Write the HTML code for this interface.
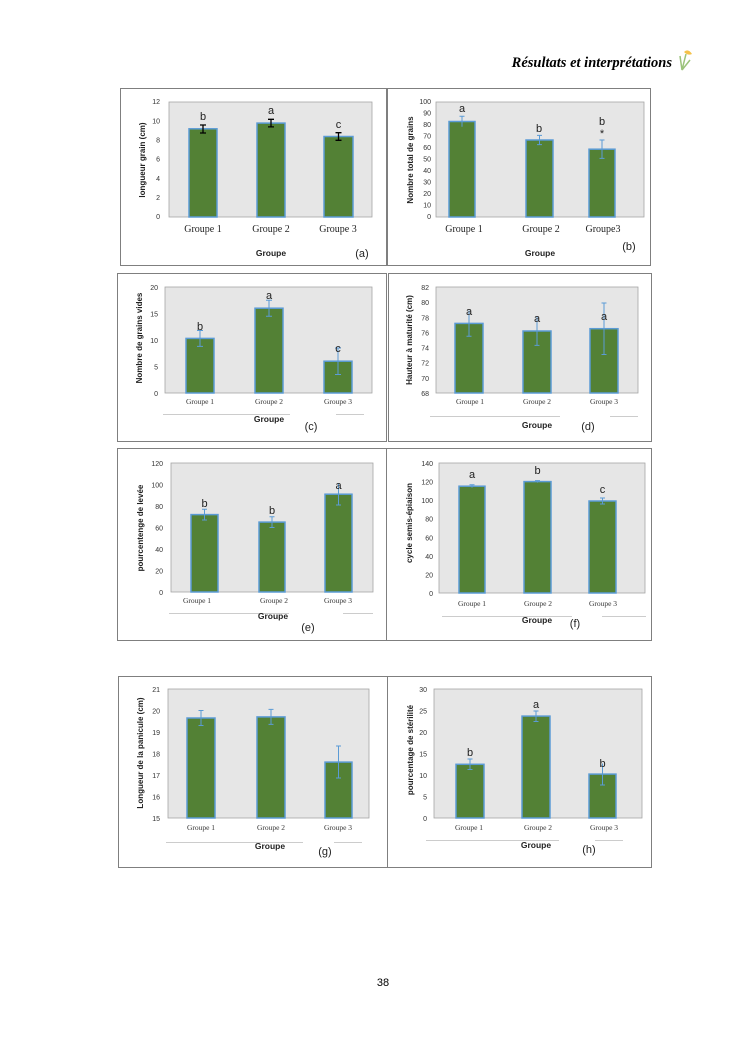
<!DOCTYPE html>
<html><head><meta charset="utf-8"><style>
body{margin:0;background:#fff}
svg{display:block}
.t{font-family:"Liberation Sans",sans-serif;font-size:7px;fill:#333}
.yl{font-family:"Liberation Sans",sans-serif;font-size:8px;font-weight:bold;fill:#222}
.gx{font-family:"Liberation Serif",serif;font-size:10px;fill:#222}
.gs{font-family:"Liberation Serif",serif;font-size:7.5px;fill:#333}
.gr{font-family:"Liberation Sans",sans-serif;font-size:8.5px;font-weight:bold;fill:#222}
.lt{font-family:"Liberation Sans",sans-serif;font-size:11px;fill:#222}
.pl{font-family:"Liberation Sans",sans-serif;font-size:11px;fill:#222}
.box{fill:#fff;stroke:#7f7f7f;stroke-width:1}
.pa{fill:#e6e6e6;stroke:#a6a6a6;stroke-width:.8}
.bar{fill:#538135;stroke:#5b9bd5;stroke-width:1.5}
.eb{stroke:#5b9bd5;stroke-width:1;fill:none}
.ek{stroke:#000;stroke-width:1.3;fill:none}
.ax{stroke:#888;stroke-width:.8;fill:none}
.ul{stroke:#999;stroke-width:.6}
</style></head><body>
<svg width="745" height="1053" viewBox="0 0 745 1053">
<text x="672" y="67" text-anchor="end" style="font-family:'Liberation Serif',serif;font-size:14.5px;font-weight:bold;font-style:italic" fill="#000">Résultats et interprétations</text>
<path d="M682 70 L680 56 M682 70 L686 54 M682 70 L690 60" stroke="#9bc37a" stroke-width="1.5" fill="none"/>
<path d="M684 52 q4 -4 8 2 q-4 2 -8 -2z" fill="#f5c24a"/>

<!-- (a) -->
<rect class="box" x="120.5" y="88.5" width="266" height="177"/>
<rect class="pa" x="169" y="102" width="203" height="115"/>
<g class="t" text-anchor="end"><text x="160" y="219">0</text><text x="160" y="200">2</text><text x="160" y="180.8">4</text><text x="160" y="161.7">6</text><text x="160" y="142.5">8</text><text x="160" y="123.3">10</text><text x="160" y="104.2">12</text></g>
<rect class="bar" x="189" y="128.8" width="28" height="88.2"/>
<rect class="bar" x="257" y="123.1" width="28" height="93.9"/>
<rect class="bar" x="324" y="136.5" width="29" height="80.5"/>
<path class="ek" d="M203 125v8M200 125h6M200 133h6 M271 119.3v7.6M268 119.3h6M268 126.9h6 M338.5 132.7v7.6M335.5 132.7h6M335.5 140.3h6"/>
<text class="lt" x="203" y="120" text-anchor="middle">b</text><text class="lt" x="271" y="114" text-anchor="middle">a</text><text class="lt" x="338.5" y="128" text-anchor="middle">c</text>
<text class="yl" transform="translate(145,160) rotate(-90)" text-anchor="middle">longueur grain (cm)</text>
<g class="gx" text-anchor="middle"><text x="203" y="232">Groupe 1</text><text x="271" y="232">Groupe 2</text><text x="338" y="232">Groupe 3</text></g>
<text class="gr" x="271" y="256" text-anchor="middle">Groupe</text><text class="pl" x="362" y="257" text-anchor="middle">(a)</text>

<!-- (b) -->
<rect class="box" x="387.5" y="88.5" width="263" height="177"/>
<rect class="pa" x="436" y="102" width="208" height="115"/>
<g class="t" text-anchor="end"><text x="431" y="219">0</text><text x="431" y="207.5">10</text><text x="431" y="196">20</text><text x="431" y="184.5">30</text><text x="431" y="173">40</text><text x="431" y="161.5">50</text><text x="431" y="150">60</text><text x="431" y="138.5">70</text><text x="431" y="127">80</text><text x="431" y="115.5">90</text><text x="431" y="104">100</text></g>
<rect class="bar" x="449" y="121.5" width="26" height="95.5"/>
<rect class="bar" x="526" y="140" width="27" height="77"/>
<rect class="bar" x="589" y="149.2" width="26" height="67.8"/>
<path class="eb" d="M462 116.3v10.4M459.5 116.3h5 M539.5 135.4v9.2M537 135.4h5M537 144.6h5 M602 140v18.4M599.5 140h5M599.5 158.4h5"/>
<text class="lt" x="462" y="112" text-anchor="middle">a</text><text class="lt" x="539" y="132" text-anchor="middle">b</text><text class="lt" x="602" y="125" text-anchor="middle">b</text><text class="lt" x="602" y="137" text-anchor="middle">*</text>
<text class="yl" transform="translate(413,160) rotate(-90)" text-anchor="middle">Nombre total de grains</text>
<g class="gx" text-anchor="middle"><text x="464" y="232">Groupe 1</text><text x="541" y="232">Groupe 2</text><text x="603" y="232">Groupe3</text></g>
<text class="gr" x="540" y="256" text-anchor="middle">Groupe</text><text class="pl" x="629" y="250" text-anchor="middle">(b)</text>

<!-- (c) -->
<rect class="box" x="117.5" y="273.5" width="269" height="168"/>
<rect class="pa" x="165" y="287" width="207" height="106"/>
<g class="t" text-anchor="end"><text x="158" y="396">0</text><text x="158" y="369.5">5</text><text x="158" y="343">10</text><text x="158" y="316.5">15</text><text x="158" y="290">20</text></g>
<rect class="bar" x="186" y="338.4" width="28" height="54.6"/>
<rect class="bar" x="255" y="308.2" width="28" height="84.8"/>
<rect class="bar" x="324" y="361.2" width="28" height="31.8"/>
<path class="eb" d="M200 330.5v15.9M197 330.5h6M197 346.4h6 M269 300.3v15.9M266 300.3h6M266 316.2h6 M338 348v26.5M335 348h6M335 374.5h6"/>
<text class="lt" x="200" y="330" text-anchor="middle">b</text><text class="lt" x="269" y="299" text-anchor="middle">a</text><text class="lt" x="338" y="352" text-anchor="middle">c</text>
<text class="yl" transform="translate(142,338) rotate(-90)" text-anchor="middle">Nombre de grains vides</text>
<g class="gs" text-anchor="middle"><text x="200" y="404">Groupe 1</text><text x="269" y="404">Groupe 2</text><text x="338" y="404">Groupe 3</text></g>
<path class="ul" d="M163 414.5h127M336 414.5h28"/>
<text class="gr" x="269" y="422" text-anchor="middle">Groupe</text><text class="pl" x="311" y="430" text-anchor="middle">(c)</text>

<!-- (d) -->
<rect class="box" x="388.5" y="273.5" width="263" height="168"/>
<rect class="pa" x="436" y="287" width="202" height="106"/>
<g class="t" text-anchor="end"><text x="429" y="396">68</text><text x="429" y="380.9">70</text><text x="429" y="365.7">72</text><text x="429" y="350.6">74</text><text x="429" y="335.4">76</text><text x="429" y="320.3">78</text><text x="429" y="305.1">80</text><text x="429" y="290">82</text></g>
<rect class="bar" x="455" y="323.4" width="28" height="69.6"/>
<rect class="bar" x="523" y="331" width="28" height="62"/>
<rect class="bar" x="590" y="328.7" width="28" height="64.3"/>
<path class="eb" d="M469 310.5v25.8M466.5 336.3h5 M537 316.6v28.8M534.5 345.4h5 M604 303v51.5M601.5 303h5M601.5 354.5h5"/>
<text class="lt" x="469" y="315" text-anchor="middle">a</text><text class="lt" x="537" y="322" text-anchor="middle">a</text><text class="lt" x="604" y="320" text-anchor="middle">a</text>
<text class="yl" transform="translate(412,340) rotate(-90)" text-anchor="middle">Hauteur à maturité (cm)</text>
<g class="gs" text-anchor="middle"><text x="470" y="404">Groupe 1</text><text x="537" y="404">Groupe 2</text><text x="604" y="404">Groupe 3</text></g>
<path class="ul" d="M430 416.5h130M610 416.5h28"/>
<text class="gr" x="537" y="428" text-anchor="middle">Groupe</text><text class="pl" x="588" y="430" text-anchor="middle">(d)</text>

<!-- (e) -->
<rect class="box" x="117.5" y="448.5" width="269" height="192"/>
<rect class="pa" x="171" y="463" width="202" height="129"/>
<g class="t" text-anchor="end"><text x="163" y="595">0</text><text x="163" y="573.5">20</text><text x="163" y="552">40</text><text x="163" y="530.5">60</text><text x="163" y="509">80</text><text x="163" y="487.5">100</text><text x="163" y="466">120</text></g>
<rect class="bar" x="191" y="514.6" width="27" height="77.4"/>
<rect class="bar" x="259" y="522.1" width="26" height="69.9"/>
<rect class="bar" x="325" y="494.2" width="27" height="97.8"/>
<path class="eb" d="M204.5 509.2v10.8M202 509.2h5M202 520h5 M272 516.7v10.8M269.5 516.7h5M269.5 527.5h5 M338.5 483.5v21.5M336 505h5"/>
<text class="lt" x="204.5" y="507" text-anchor="middle">b</text><text class="lt" x="272" y="514" text-anchor="middle">b</text><text class="lt" x="338.5" y="489" text-anchor="middle">a</text>
<text class="yl" transform="translate(143,528) rotate(-90)" text-anchor="middle">pourcentenge de levée</text>
<g class="gs" text-anchor="middle"><text x="197" y="603">Groupe 1</text><text x="274" y="603">Groupe 2</text><text x="338" y="603">Groupe 3</text></g>
<path class="ul" d="M169 613.5h120M343 613.5h30"/>
<text class="gr" x="273" y="619" text-anchor="middle">Groupe</text><text class="pl" x="308" y="631" text-anchor="middle">(e)</text>

<!-- (f) -->
<rect class="box" x="386.5" y="448.5" width="265" height="192"/>
<rect class="pa" x="439" y="463" width="206" height="130"/>
<g class="t" text-anchor="end"><text x="433" y="596">0</text><text x="433" y="577.4">20</text><text x="433" y="558.9">40</text><text x="433" y="540.3">60</text><text x="433" y="521.7">80</text><text x="433" y="503.1">100</text><text x="433" y="484.6">120</text><text x="433" y="466">140</text></g>
<rect class="bar" x="459" y="486.2" width="26" height="106.8"/>
<rect class="bar" x="524" y="481.6" width="27" height="111.4"/>
<rect class="bar" x="589" y="501" width="27" height="92"/>
<path class="eb" d="M472 484.8v2.8M469.5 484.8h5 M537.5 480.6v2M535 480.6h5 M602.5 498v6M600 498h5M600 504h5"/>
<text class="lt" x="472" y="478" text-anchor="middle">a</text><text class="lt" x="537.5" y="474" text-anchor="middle">b</text><text class="lt" x="602.5" y="493" text-anchor="middle">c</text>
<text class="yl" transform="translate(412,523) rotate(-90)" text-anchor="middle">cycle semis-épiaison</text>
<g class="gs" text-anchor="middle"><text x="472" y="606">Groupe 1</text><text x="538" y="606">Groupe 2</text><text x="603" y="606">Groupe 3</text></g>
<path class="ul" d="M442 616.5h130M602 616.5h44"/>
<text class="gr" x="537" y="623" text-anchor="middle">Groupe</text><text class="pl" x="575" y="627" text-anchor="middle">(f)</text>

<!-- (g) -->
<rect class="box" x="118.5" y="676.5" width="269" height="191"/>
<rect class="pa" x="168" y="689" width="201" height="129"/>
<g class="t" text-anchor="end"><text x="160" y="821">15</text><text x="160" y="799.5">16</text><text x="160" y="778">17</text><text x="160" y="756.5">18</text><text x="160" y="735">19</text><text x="160" y="713.5">20</text><text x="160" y="692">21</text></g>
<rect class="bar" x="187" y="718" width="28" height="100"/>
<rect class="bar" x="257" y="716.9" width="28" height="101.1"/>
<rect class="bar" x="325" y="762.1" width="27" height="55.9"/>
<path class="eb" d="M201 710.5v15M198.5 710.5h5M198.5 725.5h5 M271 709.4v15M268.5 709.4h5M268.5 724.4h5 M338.5 746v32M336 746h5M336 778h5"/>
<text class="yl" transform="translate(143,753) rotate(-90)" text-anchor="middle">Longueur de la panicule (cm)</text>
<g class="gs" text-anchor="middle"><text x="201" y="830">Groupe 1</text><text x="271" y="830">Groupe 2</text><text x="338" y="830">Groupe 3</text></g>
<path class="ul" d="M166 842.5h137M334 842.5h28"/>
<text class="gr" x="270" y="849" text-anchor="middle">Groupe</text><text class="pl" x="325" y="855" text-anchor="middle">(g)</text>

<!-- (h) -->
<rect class="box" x="387.5" y="676.5" width="264" height="191"/>
<rect class="pa" x="434" y="689" width="208" height="129"/>
<g class="t" text-anchor="end"><text x="427" y="821">0</text><text x="427" y="799.5">5</text><text x="427" y="778">10</text><text x="427" y="756.5">15</text><text x="427" y="735">20</text><text x="427" y="713.5">25</text><text x="427" y="692">30</text></g>
<rect class="bar" x="456" y="764.3" width="28" height="53.7"/>
<rect class="bar" x="522" y="716.1" width="28" height="101.9"/>
<rect class="bar" x="589" y="774.1" width="27" height="43.9"/>
<path class="eb" d="M470 759v10.5M467.5 759h5M467.5 769.5h5 M536 711v10.5M533.5 711h5M533.5 721.5h5 M602.5 763.5v21.5M600 785h5"/>
<text class="lt" x="470" y="756" text-anchor="middle">b</text><text class="lt" x="536" y="708" text-anchor="middle">a</text><text class="lt" x="602.5" y="767" text-anchor="middle">b</text>
<text class="yl" transform="translate(413,750) rotate(-90)" text-anchor="middle">pourcentage de stérilité</text>
<g class="gs" text-anchor="middle"><text x="469" y="830">Groupe 1</text><text x="538" y="830">Groupe 2</text><text x="604" y="830">Groupe 3</text></g>
<path class="ul" d="M426 840.5h133M595 840.5h28"/>
<text class="gr" x="536" y="848" text-anchor="middle">Groupe</text><text class="pl" x="589" y="853" text-anchor="middle">(h)</text>

<text x="383" y="986" text-anchor="middle" style="font-family:'Liberation Sans',sans-serif;font-size:11px" fill="#000">38</text>
</svg>
</body></html>
